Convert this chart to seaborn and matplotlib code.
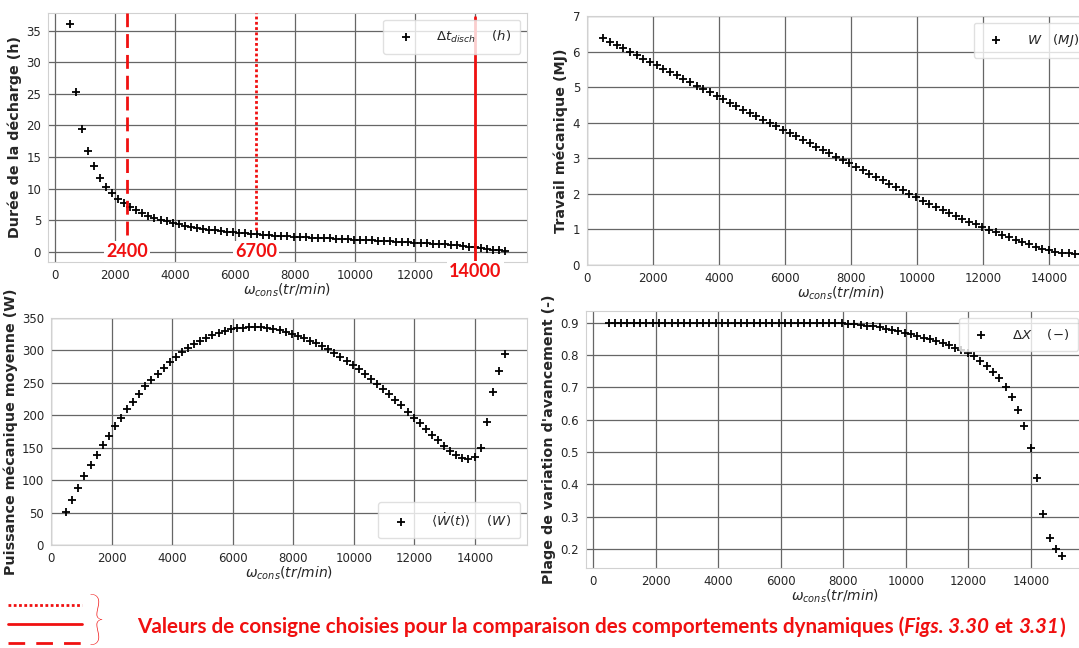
import numpy as np
import pandas as pd
import matplotlib
matplotlib.use('Agg')
import matplotlib.pyplot as plt
import seaborn as sns
from matplotlib.lines import Line2D
from matplotlib.text import Annotation

# Vitesses de consigne (tr/min)
omega = [500, 701, 903, 1104, 1306, 1507, 1708, 1910, 2111, 2313,
         2514, 2715, 2917, 3118, 3319, 3521, 3722, 3924, 4125, 4326,
         4528, 4729, 4931, 5132, 5333, 5535, 5736, 5938, 6139, 6340,
         6542, 6743, 6944, 7146, 7347, 7549, 7750, 7951, 8153, 8354,
         8556, 8757, 8958, 9160, 9361, 9563, 9764, 9965, 10167, 10368,
         10569, 10771, 10972, 11174, 11375, 11576, 11778, 11979, 12181, 12382,
         12583, 12785, 12986, 13188, 13389, 13590, 13792, 13993, 14194, 14396,
         14597, 14799, 15000]

# Durée de la décharge (h)
duree_h = [36.0, 25.3, 19.5, 16.0, 13.5, 11.7, 10.3, 9.25, 8.35, 7.65,
           7.05, 6.55, 6.1, 5.7, 5.35, 5.05, 4.8, 4.55, 4.35, 4.15,
           3.97, 3.8, 3.65, 3.52, 3.4, 3.28, 3.18, 3.08, 2.99, 2.91,
           2.83, 2.76, 2.69, 2.63, 2.57, 2.51, 2.46, 2.41, 2.36, 2.31,
           2.26, 2.21, 2.17, 2.12, 2.07, 2.03, 1.98, 1.93, 1.89, 1.85,
           1.80, 1.76, 1.72, 1.67, 1.62, 1.57, 1.52, 1.47, 1.42, 1.37,
           1.31, 1.25, 1.18, 1.10, 1.01, 0.92, 0.82, 0.72, 0.60, 0.46,
           0.35, 0.26, 0.18]

# Travail mécanique (MJ)
travail_MJ = [6.37, 6.28, 6.18, 6.09, 5.99, 5.90, 5.80, 5.71, 5.61, 5.52,
              5.42, 5.33, 5.23, 5.14, 5.04, 4.95, 4.85, 4.75, 4.66, 4.56,
              4.47, 4.37, 4.28, 4.18, 4.09, 3.99, 3.90, 3.80, 3.71, 3.62,
              3.52, 3.43, 3.33, 3.24, 3.14, 3.05, 2.95, 2.86, 2.76, 2.67,
              2.57, 2.48, 2.38, 2.29, 2.19, 2.10, 1.99, 1.90, 1.81, 1.72,
              1.63, 1.55, 1.46, 1.38, 1.30, 1.22, 1.14, 1.06, 0.99, 0.92,
              0.85, 0.78, 0.71, 0.64, 0.58, 0.52, 0.46, 0.41, 0.37, 0.35,
              0.33, 0.31, 0.30]

# Puissance mécanique moyenne (W)
puissance_W = [51, 70, 88, 106, 123, 139, 153.5, 168.5, 183, 196,
               209, 221, 233, 244.5, 254.5, 264, 273, 281.5, 290, 297,
               303.5, 309.5, 314.5, 319.5, 324, 327.5, 330.5, 332.5, 334, 335,
               335.5, 335.7, 335.4, 334.6, 333.4, 331.5, 328.3, 325.3, 322.3, 319.1,
               315.2, 310.9, 306.4, 301.4, 295.7, 289.8, 284.0, 277.7, 271.0, 263.6,
               255.6, 247.5, 240.4, 232.4, 223.7, 215.1, 205.5, 196.5, 187.6, 178.9,
               169.9, 161.2, 152.5, 145.1, 138.7, 133.7, 132.7, 135.1, 150.0, 189.2,
               235.1, 268.6, 294.3]

# Plage de variation d'avancement (-)
delta_X = [0.900, 0.900, 0.900, 0.900, 0.900, 0.900, 0.900, 0.900, 0.900, 0.900,
           0.900, 0.900, 0.900, 0.900, 0.900, 0.900, 0.900, 0.900, 0.900, 0.900,
           0.900, 0.900, 0.900, 0.900, 0.900, 0.900, 0.900, 0.900, 0.900, 0.900,
           0.900, 0.900, 0.900, 0.900, 0.900, 0.900, 0.899, 0.898, 0.897, 0.895,
           0.893, 0.891, 0.889, 0.886, 0.881, 0.878, 0.875, 0.869, 0.865, 0.859,
           0.854, 0.848, 0.843, 0.836, 0.830, 0.823, 0.815, 0.807, 0.796, 0.782,
           0.766, 0.749, 0.728, 0.700, 0.670, 0.631, 0.580, 0.512, 0.419, 0.308,
           0.236, 0.201, 0.178]

# Valeurs de consigne choisies
consignes = [2400, 6700, 14000]
consignes_txt = ['2400', '6700', '14000']

df = pd.DataFrame({'omega': omega, 'duree': duree_h, 'travail': travail_MJ,
                   'puissance': puissance_W, 'dX': delta_X})

sns.set_style('whitegrid', {'grid.color': '0.4', 'axes.edgecolor': '0.82'})
plt.rcParams['font.family'] = ['DejaVu Sans']
police = ['Lato', 'DejaVu Sans']
rouge = '#f01010'

fig = plt.figure(figsize=(10.79, 6.48), dpi=100)
ax1 = fig.add_axes([0.0445, 0.5957, 0.4439, 0.3843])
ax2 = fig.add_axes([0.544, 0.591, 0.4705, 0.3843])
ax3 = fig.add_axes([0.0473, 0.159, 0.4411, 0.3503])
ax4 = fig.add_axes([0.543, 0.1235, 0.4625, 0.3966])


def nuage(ax, col, lab, loc, ylab):
    sns.scatterplot(data=df, x='omega', y=col, ax=ax, marker='+', color='black',
                    s=40, linewidth=1.3, label=lab)
    ax.legend(loc=loc, fontsize=9.5, handletextpad=1.3, borderpad=0.7,
              framealpha=0.8, edgecolor='0.85')
    ax.set_xlabel(r'$\omega_{cons}(tr/min)$', fontsize=10, labelpad=0)
    ax.set_ylabel(ylab, fontsize=10.3, fontweight='bold', labelpad=3)
    ax.tick_params(labelsize=8.5, pad=1.5)
    ax.grid(True, linewidth=0.9)
    ax.set_xticks(range(0, 14001, 2000))


nuage(ax1, 'duree', r'$\Delta t_{disch}$    $(h)$', 'upper right', 'Durée de la décharge (h)')
ax1.set_xlim(-225, 15725)
ax1.set_yticks(range(0, 36, 5))
# l'étiquette 14000 est masquée par la valeur de consigne en rouge
ax1.set_xticklabels([str(v) if v != 14000 else '' for v in range(0, 14001, 2000)])

nuage(ax2, 'travail', r'$W$   $(MJ)$', 'upper right', 'Travail mécanique (MJ)')
ax2.set_xlim(0, 15380)
ax2.set_ylim(0, 7)

nuage(ax3, 'puissance', r'$\langle\dot{W}(t)\rangle$    $(W)$', 'lower right',
      'Puissance mécanique moyenne (W)')
ax3.set_xlim(0, 15725)
ax3.set_ylim(0, 350)
ax3.set_yticks(range(0, 351, 50))

nuage(ax4, 'dX', r'$\Delta X$    $(-)$', 'upper right', "Plage de variation d'avancement (-)")
ax4.set_xlim(-225, 15725)
ax4.set_yticks(np.arange(0.2, 0.95, 0.1))

# lignes de consigne sur le premier graphe
styles = [(0, (5, 2.5)), (0, (1, 0.9)), '-']
ymins = [0.11, 0.13, 0.0]
ymaxs = [1.0, 1.0, 0.985]
for xv, st, y0, y1 in zip(consignes, styles, ymins, ymaxs):
    ax1.axvline(xv, ymin=y0, ymax=y1, color=rouge, linestyle=st, linewidth=2.0, zorder=3)

boite = dict(facecolor='white', edgecolor='none', pad=1.5)
for xv, txt in zip(consignes[:2], consignes_txt[:2]):
    ax1.text(xv, 0, txt, ha='center', va='center', color=rouge, fontsize=13,
             fontweight='bold', family=police, bbox=boite, zorder=4)
ax1.text(consignes[2], -0.04, consignes_txt[2], transform=ax1.get_xaxis_transform(),
         ha='center', va='center', color=rouge, fontsize=13, fontweight='bold',
         family=police, bbox=boite, zorder=4, clip_on=False)

# légende des lignes en bas
for yy, st in zip([605, 624, 643], [(0, (1, 0.9)), '-', (0, (6, 4))]):
    fig.add_artist(Line2D([8 / 1079, 82 / 1079], [1 - yy / 648, 1 - yy / 648],
                          color=rouge, linestyle=st, linewidth=2.0))
fig.text(88 / 1079, 1 - 622 / 648, '}', color=rouge, fontsize=42, va='center',
         ha='left', family=police, fontweight='light')

morceaux = [('Valeurs de consigne choisies pour la comparaison des comportements dynamiques (', 'normal', 0),
            ('Figs. 3.30', 'italic', 0),
            ('et', 'normal', 0.25),
            ('3.31', 'italic', 0.25),
            (')', 'normal', 0)]


def ligne_texte(fs):
    arts = []
    t0 = fig.text(137 / 1079, 1 - 627 / 648, morceaux[0][0], fontsize=fs, color=rouge,
                  fontweight='bold', family=police, va='center', ha='left')
    arts.append(t0)
    prec = t0
    for txt, style, gap in morceaux[1:]:
        a = Annotation(txt, xy=(1, 0), xycoords=prec, xytext=(gap * fs, 0),
                       textcoords='offset points', va='bottom', ha='left', fontsize=fs,
                       color=rouge, fontweight='bold', fontstyle=style, family=police)
        fig.add_artist(a)
        arts.append(a)
        prec = a
    return arts


fs = 15
arts = ligne_texte(fs)
fig.canvas.draw()
r = fig.canvas.get_renderer()
larg = arts[-1].get_window_extent(r).x1 - arts[0].get_window_extent(r).x0
for a in arts:
    a.remove()
ligne_texte(fs * 931 / larg)

fig.savefig('out.png', dpi=100)
